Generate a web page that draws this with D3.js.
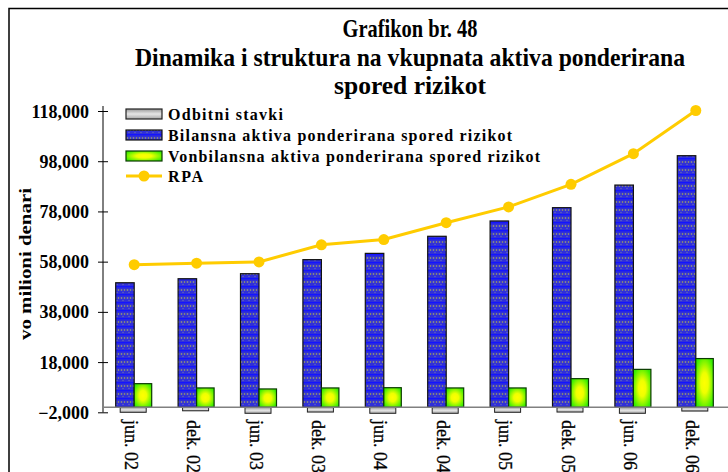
<!DOCTYPE html>
<html>
<head>
<meta charset="utf-8">
<script src="https://cdn.jsdelivr.net/npm/d3@7"></script>
<style>
  html, body { margin: 0; padding: 0; background: #fff; }
  svg { display: block; font-family: "Liberation Serif", "DejaVu Serif", serif; }
</style>
</head>
<body>
<svg id="chart" width="728" height="472"></svg>
<script>
// Period labels (category axis)
const periods = ["jun. 02", "dek. 02", "jun. 03", "dek. 03", "jun. 04",
                 "dek. 04", "jun. 05", "dek. 05", "jun. 06", "dek. 06"];
// Deductible items (negative), millions of denars
const odbitni = [-2000, -1400, -2400, -1900, -2400, -2400, -2000, -1900, -2400, -1500];
// Risk-weighted balance-sheet assets
const bilansna = [49600, 51200, 53200, 58800, 61300, 68100, 74200, 79500, 88500, 100200];
// Risk-weighted off-balance-sheet assets
const vonbilansna = [9400, 7700, 7300, 7700, 7800, 7700, 7700, 11400, 15100, 19400];
// Total risk-weighted assets (RPA)
const rpa = [56800, 57400, 57900, 64700, 66800, 73500, 79800, 88800, 101000, 118200];
// Value-axis ticks
const yTicks = [-2000, 18000, 38000, 58000, 78000, 98000, 118000];

const titleLines = ["Grafikon br. 48",
                    "Dinamika i struktura na vkupnata aktiva ponderirana",
                    "spored rizikot"];
const legendLabels = ["Odbitni stavki",
                      "Bilansna aktiva ponderirana spored rizikot",
                      "Vonbilansna aktiva ponderirana spored rizikot",
                      "RPA"];
const yTitle = "vo milioni denari";

const svg = d3.select("#chart");
const defs = svg.append("defs");

// Dotted blue fill
const pat = defs.append("pattern").attr("id", "bluePat")
  .attr("patternUnits", "userSpaceOnUse").attr("width", 6).attr("height", 8);
pat.append("rect").attr("width", 6).attr("height", 8).attr("fill", "#3030d8");
pat.append("rect").attr("x", 0).attr("y", 6).attr("width", 6).attr("height", 1.4).attr("fill", "#1414ff");
pat.append("circle").attr("cx", 1.5).attr("cy", 2).attr("r", 0.9).attr("fill", "#8a8a86");
pat.append("circle").attr("cx", 4.5).attr("cy", 2).attr("r", 0.8).attr("fill", "#b0b048");
pat.append("circle").attr("cx", 3).attr("cy", 4.5).attr("r", 0.7).attr("fill", "#6a6ab8");

// Yellow-to-green radial fill
const rg = defs.append("radialGradient").attr("id", "greenGrad")
  .attr("cx", "50%").attr("cy", "50%").attr("r", "60%");
rg.append("stop").attr("offset", "0%").attr("stop-color", "#ffff00");
rg.append("stop").attr("offset", "35%").attr("stop-color", "#eeff00");
rg.append("stop").attr("offset", "100%").attr("stop-color", "#33ee00");

// Grey shaded fill
const gg = defs.append("linearGradient").attr("id", "greyGrad")
  .attr("x1", 0).attr("y1", 0).attr("x2", 0).attr("y2", 1);
gg.append("stop").attr("offset", "0%").attr("stop-color", "#9a9a9a");
gg.append("stop").attr("offset", "50%").attr("stop-color", "#e6e6e6");
gg.append("stop").attr("offset", "100%").attr("stop-color", "#a8a8a8");

// Outer frame (left and top edges)
svg.append("path").attr("d", "M9,472 V8.5 H728")
  .attr("fill", "none").attr("stroke", "#000").attr("stroke-width", 1.5);

// Title
const titleY = [37, 66, 94];
const titleW = [135, 550, 152];
titleLines.forEach((t, i) => {
  svg.append("text").attr("x", 410).attr("y", titleY[i])
    .attr("text-anchor", "middle")
    .attr("font-size", 25).attr("font-weight", "bold")
    .attr("textLength", titleW[i]).attr("lengthAdjust", "spacingAndGlyphs")
    .text(t);
});

// Scales
const x = d3.scaleBand().domain(periods).range([103, 727]).padding(0);
const y = d3.scaleLinear().domain([-2000, 118000]).range([412.3, 111]);

// Value axis
const yAxis = d3.axisLeft(y).tickValues(yTicks).tickSize(0)
  .tickFormat(d3.format(","));
const yg = svg.append("g").attr("transform", "translate(103,0)").call(yAxis);
yg.select(".domain").remove();
yg.append("line").attr("x1", 0).attr("x2", 0).attr("y1", 106).attr("y2", y(-2000))
  .attr("stroke", "#000").attr("stroke-width", 1);
yg.selectAll(".tick").append("line").attr("x1", -5).attr("x2", 5)
  .attr("stroke", "#000").attr("stroke-width", 1);
yg.selectAll(".tick text")
  .attr("x", -14).attr("dy", "0.34em")
  .attr("font-family", "Liberation Serif, serif")
  .attr("font-size", 18).attr("font-weight", "bold").attr("fill", "#000");

// Axis title
svg.append("text")
  .attr("transform", "translate(31,264) rotate(-90)")
  .attr("text-anchor", "middle")
  .attr("font-size", 16).attr("font-weight", "bold")
  .attr("textLength", 152).attr("lengthAdjust", "spacingAndGlyphs")
  .text(yTitle);

const bw = 18.5;

// Deductible items (below the baseline)
svg.append("g").selectAll("rect").data(odbitni).join("rect")
  .attr("x", (d, i) => x(periods[i]) + x.bandwidth() / 2 - 14)
  .attr("y", y(0))
  .attr("width", 26)
  .attr("height", d => y(d) - y(0))
  .attr("fill", "url(#greyGrad)").attr("stroke", "#222").attr("stroke-width", 1);

// Balance-sheet assets
svg.append("g").selectAll("rect").data(bilansna).join("rect")
  .attr("x", (d, i) => x(periods[i]) + x.bandwidth() / 2 - bw)
  .attr("y", d => y(d))
  .attr("width", bw)
  .attr("height", d => y(0) - y(d))
  .attr("fill", "url(#bluePat)").attr("stroke", "#111").attr("stroke-width", 1.2);

// Off-balance-sheet assets
svg.append("g").selectAll("rect").data(vonbilansna).join("rect")
  .attr("x", (d, i) => x(periods[i]) + x.bandwidth() / 2)
  .attr("y", d => y(d))
  .attr("width", 17.5)
  .attr("height", d => y(0) - y(d))
  .attr("fill", "url(#greenGrad)").attr("stroke", "#0a3a00").attr("stroke-width", 1.2);

// Baseline
svg.append("line").attr("x1", 103).attr("x2", 728)
  .attr("y1", y(0)).attr("y2", y(0))
  .attr("stroke", "#808080").attr("stroke-width", 1.5);

// RPA line
const line = d3.line()
  .x((d, i) => x(periods[i]) + x.bandwidth() / 2)
  .y(d => y(d));
svg.append("path").datum(rpa).attr("d", line)
  .attr("fill", "none").attr("stroke", "#ffcc00").attr("stroke-width", 3);
svg.append("g").selectAll("circle").data(rpa).join("circle")
  .attr("cx", (d, i) => x(periods[i]) + x.bandwidth() / 2)
  .attr("cy", d => y(d))
  .attr("r", 5.5).attr("fill", "#ffcc00");

// Category labels
svg.append("g").selectAll("text").data(periods).join("text")
  .attr("transform", d => `translate(${x(d) + x.bandwidth() / 2 - 3},420) rotate(90)`)
  .attr("dy", "0.35em")
  .attr("font-size", 18)
  .attr("stroke", "#000").attr("stroke-width", 0.3)
  .text(d => d);

// Legend
const legY = [114, 135, 156, 176];
const legW = [115, 344, 372, 35];
const lg = svg.append("g");
legendLabels.forEach((lab, i) => {
  const cy = legY[i];
  if (i < 3) {
    lg.append("rect").attr("x", 126).attr("y", cy - 5).attr("width", 36).attr("height", 10)
      .attr("fill", ["url(#greyGrad)", "url(#bluePat)", "url(#greenGrad)"][i])
      .attr("stroke", ["#222", "#111", "#0a3a00"][i]).attr("stroke-width", 1.2);
  } else {
    lg.append("line").attr("x1", 126).attr("x2", 162).attr("y1", cy).attr("y2", cy)
      .attr("stroke", "#ffcc00").attr("stroke-width", 3);
    lg.append("circle").attr("cx", 144).attr("cy", cy).attr("r", 5.5).attr("fill", "#ffcc00");
  }
  lg.append("text").attr("x", 168).attr("y", cy).attr("dy", "0.35em")
    .attr("font-size", 16).attr("font-weight", "bold")
    .attr("textLength", legW[i]).attr("lengthAdjust", "spacing")
    .text(lab);
});
</script>
</body>
</html>
